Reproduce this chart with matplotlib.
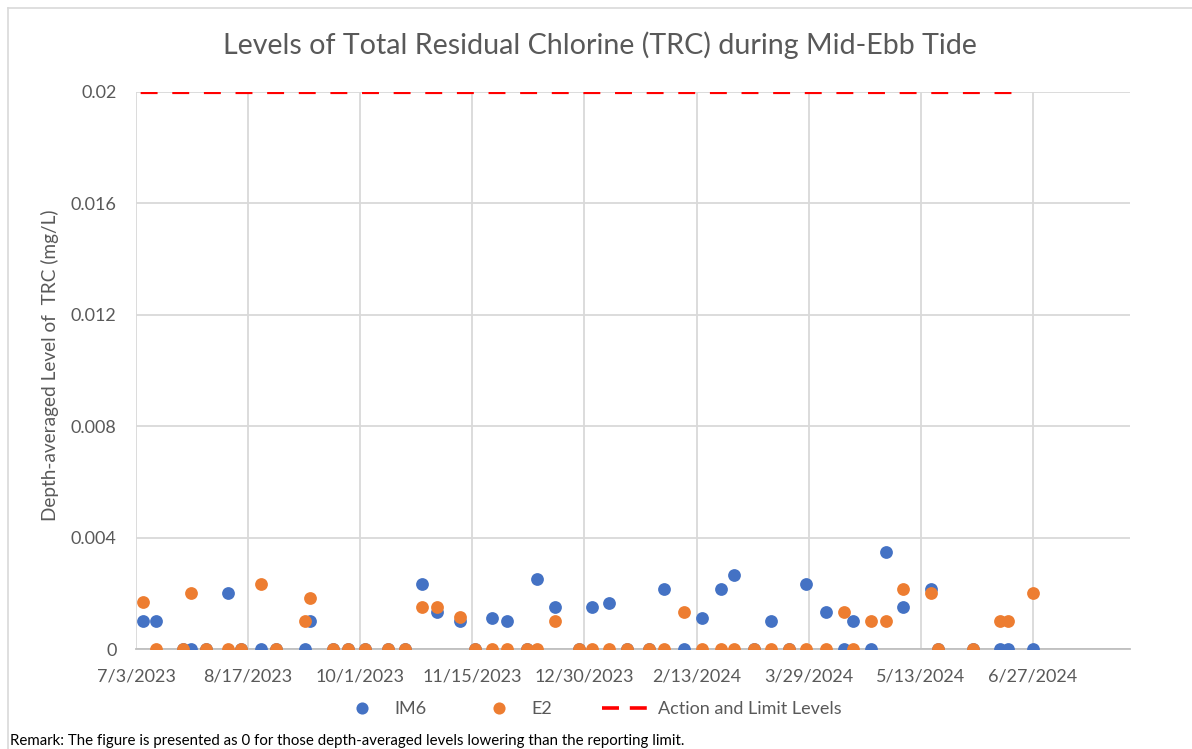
import matplotlib
matplotlib.use("Agg")
import matplotlib.pyplot as plt
from matplotlib.lines import Line2D
import pandas as pd

# ---- data ----
sample_dates = ["2023-07-06", "2023-07-11", "2023-07-22", "2023-07-25", "2023-07-31",
                "2023-08-09", "2023-08-14", "2023-08-22", "2023-08-28", "2023-09-09",
                "2023-09-11", "2023-09-20", "2023-09-26", "2023-10-03", "2023-10-12",
                "2023-10-19", "2023-10-26", "2023-11-01", "2023-11-10", "2023-11-16",
                "2023-11-23", "2023-11-29", "2023-12-07", "2023-12-11", "2023-12-18",
                "2023-12-28", "2024-01-02", "2024-01-09", "2024-01-16", "2024-01-25",
                "2024-01-31", "2024-02-08", "2024-02-15", "2024-02-23", "2024-02-28",
                "2024-03-07", "2024-03-14", "2024-03-21", "2024-03-28", "2024-04-05",
                "2024-04-12", "2024-04-16", "2024-04-23", "2024-04-29", "2024-05-06",
                "2024-05-17", "2024-05-20", "2024-06-03", "2024-06-14", "2024-06-17",
                "2024-06-27"]
im6 = [0.001, 0.001, 0, 0, 0,
       0.002, 0, 0, 0, 0,
       0.001, 0, 0, 0, 0,
       0, 0.00233, 0.00133, 0.001, 0,
       0.00113, 0.001, 0, 0.0025, 0.0015,
       0, 0.0015, 0.00165, 0, 0,
       0.00217, 0, 0.00113, 0.00217, 0.00267,
       0, 0.001, 0, 0.00233, 0.00133,
       0, 0.001, 0, 0.0035, 0.0015,
       0.00217, 0, 0, 0, 0,
       0]
e2 = [0.00167, 0, 0, 0.002, 0,
      0, 0, 0.00233, 0, 0.001,
      0.00183, 0, 0, 0, 0,
      0, 0.0015, 0.0015, 0.00115, 0,
      0, 0, 0, 0, 0.001,
      0, 0, 0, 0, 0,
      0, 0.00133, 0, 0, 0,
      0, 0, 0, 0, 0,
      0.00133, 0, 0.001, 0.001, 0.00217,
      0.002, 0, 0, 0.001, 0.001,
      0.002]
limit_dates = ["2023-07-03", "2024-06-21"]
limit_values = [0.02, 0.02]
x_ticks = ["2023-07-03", "2023-08-17", "2023-10-01", "2023-11-15", "2023-12-30",
           "2024-02-13", "2024-03-29", "2024-05-13", "2024-06-27"]
x_tick_labels = ["7/3/2023", "8/17/2023", "10/1/2023", "11/15/2023", "12/30/2023",
                 "2/13/2024", "3/29/2024", "5/13/2024", "6/27/2024"]
y_ticks = [0, 0.004, 0.008, 0.012, 0.016, 0.02]
y_tick_labels = ["0", "0.004", "0.008", "0.012", "0.016", "0.02"]

title = "Levels of Total Residual Chlorine (TRC) during Mid-Ebb Tide"
ylabel = "Depth-averaged Level of  TRC (mg/L)"
remark = "Remark: The figure is presented as 0 for those depth-averaged levels lowering than the reporting limit."

# ---- style ----
plt.rcParams['font.family'] = ['Lato', 'DejaVu Sans']
TEXT = "#595959"
GRID = "#D9D9D9"
BLUE = "#4472C4"
ORANGE = "#ED7D31"
RED = "#FF0000"

W, H = 1192, 749
fig = plt.figure(figsize=(W / 100, H / 100), dpi=100)
ax = fig.add_axes([136 / W, 1 - 649 / H, (1130 - 136) / W, (649 - 92) / H])

xd = pd.to_datetime(sample_dates)
h1, = ax.plot(xd, im6, linestyle="none", marker="o", markersize=9.2, color=BLUE,
              markeredgewidth=0, label="IM6", zorder=3)
h2, = ax.plot(xd, e2, linestyle="none", marker="o", markersize=9.2, color=ORANGE,
              markeredgewidth=0, label="E2", zorder=4)
ax.plot(pd.to_datetime(limit_dates), limit_values, color=RED, linewidth=2.3,
        linestyle=(8.6, (5.3, 4.6)), dash_capstyle="butt", zorder=5)

x0 = pd.Timestamp("2023-07-03")
ax.set_xlim(x0, x0 + pd.Timedelta(days=399))
ax.set_ylim(0, 0.02)
ax.set_xticks(pd.to_datetime(x_ticks))
ax.set_xticklabels(x_tick_labels)
ax.set_yticks(y_ticks)
ax.set_yticklabels(y_tick_labels)

ax.grid(True, color=GRID, linewidth=1.3, zorder=0)
ax.set_axisbelow(True)
for s in ["top", "right", "left"]:
    ax.spines[s].set_visible(False)
ax.spines["bottom"].set_color("#BFBFBF")
ax.spines["bottom"].set_linewidth(1.3)
ax.spines["bottom"].set_zorder(1)
ax.tick_params(axis="both", length=0, labelsize=13, labelcolor=TEXT)
ax.tick_params(axis="y", pad=14)
ax.tick_params(axis="x", pad=14)

ax.set_ylabel(ylabel, fontsize=13.7, color=TEXT)
ax.yaxis.set_label_coords(-77 / (1130 - 136), 0.51)

fig.text(600 / W, 1 - 45 / H, title, ha="center", va="center", fontsize=20.6, color=TEXT)

h3 = Line2D([], [], color=RED, linewidth=2.6, linestyle=(0, (4.7, 3.0)), dash_capstyle="butt")
leg = fig.legend([h1, h2, h3], ["IM6", "E2", "Action and Limit Levels"],
                 loc="center", bbox_to_anchor=(590 / W, 1 - 709 / H), ncol=3,
                 frameon=False, fontsize=13, handlelength=2.6, columnspacing=2.75,
                 handletextpad=0.5, markerscale=0.95)
for t in leg.get_texts():
    t.set_color(TEXT)

fig.text(10 / W, 1 - 741 / H, remark, ha="left", va="center", fontsize=10.8, color="black")

# chart border (left and top)
fig.add_artist(Line2D([8 / W, 8 / W], [0, 1 - 8 / H], color="#D9D9D9", linewidth=1.2))
fig.add_artist(Line2D([8 / W, 1], [1 - 8 / H, 1 - 8 / H], color="#D9D9D9", linewidth=1.2))

fig.savefig("out.png", dpi=100)
